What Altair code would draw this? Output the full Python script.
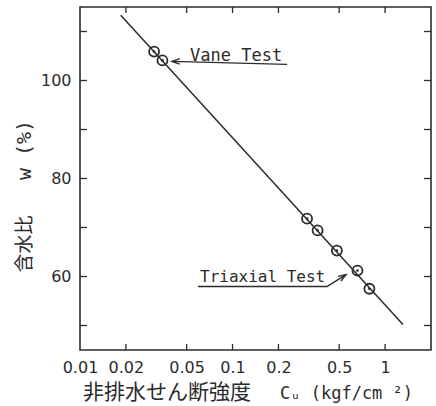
import altair as alt
import pandas as pd

# Regression line of water content against log undrained shear strength
line_cu = [0.0185, 1.31]
line_w = [113.3, 50.2]

# Measured points
vane_cu = [0.0306, 0.0347]
vane_w = [105.9, 104.1]
triax_cu = [0.308, 0.361, 0.483, 0.659, 0.789]
triax_w = [71.8, 69.4, 65.3, 61.2, 57.5]

# Axis ticks
x_labels = [0.01, 0.02, 0.05, 0.1, 0.2, 0.5, 1]
x_ticks = [0.02, 0.05, 0.1, 0.2, 0.5, 1]
y_labels = [60, 80, 100]
y_ticks = [50, 60, 70, 80, 90, 100, 110]

# Annotation labels and their leader lines (data coordinates)
vane_text = "Vane Test"
vane_text_cu, vane_text_w = 0.0527, 104.0
triax_text = "Triaxial Test"
triax_text_cu, triax_text_w = 0.0612, 58.8
leader_grp = ["vane", "vane", "tri", "tri", "tri"]
leader_cu = [0.0401, 0.2277, 0.0594, 0.4165, 0.5546]
leader_w = [103.9, 103.3, 57.96, 57.96, 60.4]
head_cu = [0.0401, 0.5546]
head_w = [103.9, 60.4]
head_angle = [0, 148]

INK = "#2b2b2b"
W, H = 351, 343

xs = alt.Scale(type="log", domain=[0.01, 2], nice=False)
ys = alt.Scale(domain=[45, 115], nice=False, zero=False)

pts = pd.DataFrame({"cu": vane_cu + triax_cu, "w": vane_w + triax_w})
line_df = pd.DataFrame({"cu": line_cu, "w": line_w})
leader_df = pd.DataFrame({"cu": leader_cu, "w": leader_w, "grp": leader_grp,
                          "ord": list(range(len(leader_cu)))})
head_df = pd.DataFrame({"cu": head_cu, "w": head_w, "ang": head_angle})
xt_df = pd.DataFrame({"cu": x_ticks})
yt_df = pd.DataFrame({"w": y_ticks})
one = alt.Data(values=[{}])

x_enc = alt.X("cu:Q", scale=xs, title=None,
              axis=alt.Axis(values=x_labels, format="~g", labelFontSize=16,
                            labelFont="DejaVu Sans", labelColor=INK,
                            labelPadding=9, ticks=False, domain=False,
                            grid=False, labelFlush=False))
y_enc = alt.Y("w:Q", scale=ys, title=None,
              axis=alt.Axis(values=y_labels, labelFontSize=16,
                            labelFont="DejaVu Sans", labelColor=INK,
                            labelPadding=9, ticks=False, domain=False,
                            grid=False))

fit = alt.Chart(line_df).mark_line(color=INK, strokeWidth=1.5).encode(x=x_enc, y=y_enc)

rings = alt.Chart(pts).mark_point(shape="circle", filled=False, size=100,
                                  strokeWidth=1.8, color=INK, opacity=1).encode(
    x=alt.X("cu:Q", scale=xs), y=alt.Y("w:Q", scale=ys))
dots = alt.Chart(pts).mark_point(shape="circle", filled=True, size=7,
                                 color=INK, opacity=1, strokeWidth=0).encode(
    x=alt.X("cu:Q", scale=xs), y=alt.Y("w:Q", scale=ys))

leaders = alt.Chart(leader_df).mark_line(color=INK, strokeWidth=1.4).encode(
    x=alt.X("cu:Q", scale=xs), y=alt.Y("w:Q", scale=ys),
    detail="grp:N", order="ord:Q")

heads = alt.Chart(head_df).mark_point(
    shape="M2,-0.7L0,0L2,0.7", filled=False, size=60, strokeWidth=1.4,
    color=INK, opacity=1).encode(
    x=alt.X("cu:Q", scale=xs), y=alt.Y("w:Q", scale=ys),
    angle=alt.Angle("ang:Q", scale=None))

vane_lbl = alt.Chart(one).mark_text(
    text=vane_text, font="DejaVu Sans Mono", fontSize=17, color=INK,
    align="left", baseline="alphabetic").encode(
    x=alt.datum(vane_text_cu, scale=xs), y=alt.datum(vane_text_w, scale=ys))
triax_lbl = alt.Chart(one).mark_text(
    text=triax_text, font="DejaVu Sans Mono", fontSize=16, color=INK,
    align="left", baseline="alphabetic").encode(
    x=alt.datum(triax_text_cu, scale=xs), y=alt.datum(triax_text_w, scale=ys))

# Inward ticks on all four sides
tick_b = alt.Chart(xt_df).mark_rule(color=INK, strokeWidth=1.3).encode(
    x=alt.X("cu:Q", scale=xs), y=alt.value(H), y2=alt.value(H - 6))
tick_t = alt.Chart(xt_df).mark_rule(color=INK, strokeWidth=1.3).encode(
    x=alt.X("cu:Q", scale=xs), y=alt.value(0), y2=alt.value(6))
tick_l = alt.Chart(yt_df).mark_rule(color=INK, strokeWidth=1.3).encode(
    y=alt.Y("w:Q", scale=ys), x=alt.value(0), x2=alt.value(7))
tick_r = alt.Chart(yt_df).mark_rule(color=INK, strokeWidth=1.3).encode(
    y=alt.Y("w:Q", scale=ys), x=alt.value(W), x2=alt.value(W - 7))

# Axis titles
xt_jp = alt.Chart(one).mark_text(
    text="非排水せん断強度", font="Noto Sans CJK JP", fontSize=21, color=INK,
    align="left", baseline="middle").encode(x=alt.value(3), y=alt.value(386))
xt_en = alt.Chart(one).mark_text(
    text="Cᵤ (kgf/cm ²)", font="DejaVu Sans Mono", fontSize=17, color=INK,
    align="left", baseline="middle").encode(x=alt.value(200), y=alt.value(387))
yt_jp = alt.Chart(one).mark_text(
    text="含水比", font="Noto Sans CJK JP", fontSize=19, color=INK,
    align="center", baseline="middle", angle=270).encode(
    x=alt.value(-55), y=alt.value(237))
yt_en = alt.Chart(one).mark_text(
    text="w  (%)", font="DejaVu Sans Mono", fontSize=20, color=INK,
    align="center", baseline="middle", angle=270).encode(
    x=alt.value(-55), y=alt.value(143))

chart = alt.layer(
    fit, leaders, heads, rings, dots, vane_lbl, triax_lbl,
    tick_b, tick_t, tick_l, tick_r, xt_jp, xt_en, yt_jp, yt_en
).properties(
    width=W, height=H,
    autosize=alt.AutoSizeParams(type="none"),
    padding={"left": 80, "top": 7, "right": 5, "bottom": 56},
    background="white",
).configure_view(stroke=INK, strokeWidth=1.6)

chart.save("out.html", embed_options={"renderer": "svg", "actions": False})
